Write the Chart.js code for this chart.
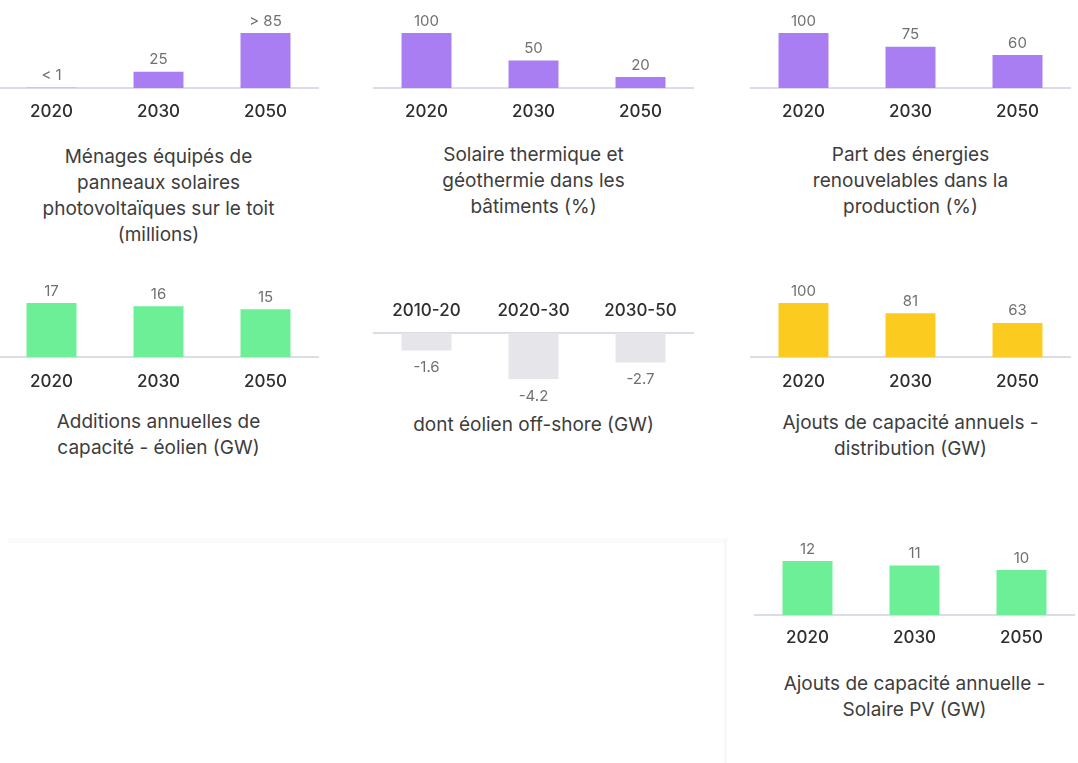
<!DOCTYPE html>
<html>
<head>
<meta charset="utf-8">
<script src="https://cdn.jsdelivr.net/npm/chart.js@4/dist/chart.umd.min.js"></script>
<style>
  html, body { margin: 0; padding: 0; background: #ffffff; }
  body { width: 1078px; height: 763px; position: relative; overflow: hidden; font-family: Inter, "Open Sans", sans-serif; }
  .box { position: absolute; }
  .title { position: absolute; text-align: center; color: #3d3d3d; font-size: 19px; line-height: 26px; white-space: nowrap; }
  .sepH { position: absolute; left: 8px; top: 538px; width: 716px; height: 5px; background: #fbfbfb; }
  .sepV { position: absolute; left: 724px; top: 538px; width: 3px; height: 225px; background: #f8f8f8; }
</style>
</head>
<body>
<div class="sepH"></div>
<div class="sepV"></div>
<script>
// ---------- data ----------
const years = ['2020', '2030', '2050'];
const periods = ['2010-20', '2020-30', '2030-50'];

const menagesValues = [0.5, 25, 85];
const menagesLabels = ['< 1', '25', '> 85'];
const menagesTitle = ['Ménages équipés de', 'panneaux solaires', 'photovoltaïques sur le toit', '(millions)'];

const thermiqueValues = [100, 50, 20];
const thermiqueTitle = ['Solaire thermique et', 'géothermie dans les', 'bâtiments (%)'];

const renouvValues = [100, 75, 60];
const renouvTitle = ['Part des énergies', 'renouvelables dans la', 'production (%)'];

const eolienValues = [17, 16, 15];
const eolienTitle = ['Additions annuelles de', 'capacité - éolien (GW)'];

const offshoreValues = [-1.6, -4.2, -2.7];
const offshoreTitle = ['dont éolien off-shore (GW)'];

const distribValues = [100, 81, 63];
const distribTitle = ['Ajouts de capacité annuels -', 'distribution (GW)'];

const pvValues = [12, 11, 10];
const pvTitle = ['Ajouts de capacité annuelle -', 'Solaire PV (GW)'];

// ---------- styles ----------
const PURPLE = '#a97ef2';
const GREEN = '#6cef96';
const YELLOW = '#fccb1f';
const GREY = '#e6e6ea';
const FONT = 'Inter, "Open Sans", sans-serif';

const valueLabelPlugin = {
  id: 'valueLabels',
  afterDatasetsDraw(chart) {
    const ctx = chart.ctx;
    const meta = chart.getDatasetMeta(0);
    const ds = chart.data.datasets[0];
    const texts = chart.options.plugins.valueLabels.texts;
    ctx.save();
    ctx.font = '400 15px ' + FONT;
    ctx.fillStyle = '#707070';
    ctx.textAlign = 'center';
    ctx.textBaseline = 'middle';
    meta.data.forEach((bar, i) => {
      const v = ds.data[i];
      const t = texts ? texts[i] : String(v);
      if (v >= 0) ctx.fillText(t, bar.x, bar.y - 12);
      else ctx.fillText(t, bar.x, bar.y + 17);
    });
    ctx.restore();
  }
};

function makeChart(opt) {
  const c = document.createElement('canvas');
  const wrap = document.createElement('div');
  wrap.className = 'box';
  wrap.style.left = opt.left + 'px';
  wrap.style.top = opt.top + 'px';
  wrap.style.width = opt.width + 'px';
  wrap.style.height = opt.height + 'px';
  wrap.appendChild(c);
  document.body.appendChild(wrap);

  const neg = opt.values.every(v => v <= 0);
  new Chart(c, {
    type: 'bar',
    data: {
      labels: opt.labels,
      datasets: [{
        data: opt.values,
        backgroundColor: opt.color,
        borderWidth: 0,
        barPercentage: 0.467,
        categoryPercentage: 1
      }]
    },
    options: {
      responsive: true,
      maintainAspectRatio: false,
      animation: false,
      events: [],
      layout: { padding: opt.padding },
      plugins: {
        legend: { display: false },
        tooltip: { enabled: false },
        valueLabels: { texts: opt.texts || null }
      },
      scales: {
        x: {
          position: neg ? 'top' : 'bottom',
          grid: { display: false, drawTicks: false },
          border: { display: true, color: '#dcdbe6', width: 2 },
          ticks: { color: '#2f2f2f', padding: opt.tickPad, font: { family: FONT, size: 17, weight: '500' } },
          afterFit: s => { s.height = opt.axisH; }
        },
        y: {
          display: false,
          min: neg ? Math.min(...opt.values) : 0,
          max: neg ? 0 : Math.max(...opt.values),
          grace: 0
        }
      }
    },
    plugins: [valueLabelPlugin]
  });

  const t = document.createElement('div');
  t.className = 'title';
  t.style.left = (opt.left - 60) + 'px';
  t.style.width = (opt.width + 120) + 'px';
  t.style.top = opt.titleTop + 'px';
  t.innerHTML = opt.title.join('<br>');
  document.body.appendChild(t);
}

// Row 1
makeChart({ left: -2, top: 0, width: 321, height: 130, padding: { top: 33 }, axisH: 42, tickPad: 14,
  labels: years, values: menagesValues, texts: menagesLabels, color: PURPLE, title: menagesTitle, titleTop: 144 });
makeChart({ left: 373, top: 0, width: 321, height: 130, padding: { top: 33 }, axisH: 42, tickPad: 14,
  labels: years, values: thermiqueValues, color: PURPLE, title: thermiqueTitle, titleTop: 142 });
makeChart({ left: 750, top: 0, width: 321, height: 130, padding: { top: 33 }, axisH: 42, tickPad: 14,
  labels: years, values: renouvValues, color: PURPLE, title: renouvTitle, titleTop: 142 });

// Row 2
makeChart({ left: -2, top: 270, width: 321, height: 129, padding: { top: 33 }, axisH: 42, tickPad: 15,
  labels: years, values: eolienValues, color: GREEN, title: eolienTitle, titleTop: 409 });
makeChart({ left: 373, top: 290, width: 321, height: 119, padding: { bottom: 30 }, axisH: 43, tickPad: 12,
  labels: periods, values: offshoreValues, color: GREY, title: offshoreTitle, titleTop: 412 });
makeChart({ left: 750, top: 270, width: 321, height: 129, padding: { top: 33 }, axisH: 42, tickPad: 15,
  labels: years, values: distribValues, color: YELLOW, title: distribTitle, titleTop: 410 });

// Row 3
makeChart({ left: 754, top: 528, width: 321, height: 129, padding: { top: 33 }, axisH: 42, tickPad: 13,
  labels: years, values: pvValues, color: GREEN, title: pvTitle, titleTop: 671 });
</script>
</body>
</html>
